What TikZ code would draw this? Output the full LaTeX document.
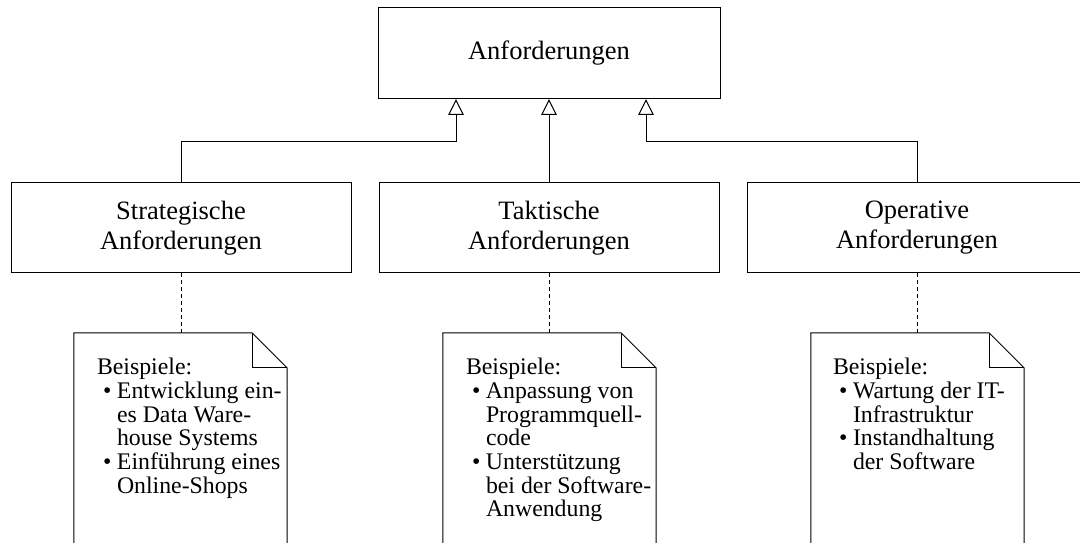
\documentclass[tikz,border=0pt]{standalone}
\usepackage{fontspec}
\setmainfont{Liberation Serif}
\usetikzlibrary{arrows.meta}

% bullet line and continuation line inside a note
\newcommand{\bitem}[1]{\makebox[20pt][l]{\hspace{6pt}\textbullet}#1}
\newcommand{\bcont}[1]{\makebox[20pt][l]{}#1}

\begin{document}
\begin{tikzpicture}[x=1pt,y=1pt,
  reqbox/.style={draw, line width=1pt, inner sep=0pt, minimum width=340pt,
    minimum height=90pt, align=center, font=\fontsize{26.5}{30}\selectfont},
  notearea/.style={inner sep=0pt, minimum width=213pt, minimum height=260pt, anchor=north},
  notetext/.style={inner sep=0pt, anchor=north west, align=left,
    font=\fontsize{23.8}{23.7}\selectfont},
  inherit/.style={line width=1pt, -{Triangle[open, length=16pt, width=15.5pt]}},
  trace/.style={line width=1pt, dash pattern=on 4pt off 3pt},
  noteline/.style={line width=1pt}
]
\useasboundingbox (0,0) rectangle (1080,543);
\clip (0,0) rectangle (1080,543);

% requirement boxes
\node[reqbox, minimum width=342pt, minimum height=91pt] (top) at (549,489.5) {Anforderungen};
\node[reqbox] (strat) at (181,315) {Strategische\\Anforderungen};
\node[reqbox] (takt)  at (549,315) {Taktische\\Anforderungen};
\node[reqbox] (oper)  at (917,315) {Operative\\Anforderungen};

% arrow heads end on the lower edge of the top box
\coordinate (tipS) at (456,444);
\coordinate (tipT) at (549,444);
\coordinate (tipO) at (646,444);
\coordinate (lvl) at (0,401.5);

\draw[inherit] (strat.north) |- (tipS |- lvl) -- (tipS);
\draw[inherit] (takt.north) -- (tipT);
\draw[inherit] (oper.north) |- (tipO |- lvl) -- (tipO);

% notes
\node[notearea] (nS) at (180.5,210) {};
\node[notearea] (nT) at (549.5,210) {};
\node[notearea] (nO) at (917.5,210) {};

\foreach \n in {nS,nT,nO}{
  \draw[noteline] (\n.south west) -- (\n.north west) -- ([xshift=-35pt]\n.north east)
    -- ([yshift=-35pt]\n.north east) -- (\n.south east);
  \draw[noteline] ([xshift=-35pt]\n.north east) |- ([yshift=-35pt]\n.north east);
}

\draw[trace] (strat.south) -- (strat.south |- nS.north);
\draw[trace] (takt.south) -- (takt.south |- nT.north);
\draw[trace] (oper.south) -- (oper.south |- nO.north);

\node[notetext] (tS) at ([xshift=23pt,yshift=-25pt]nS.north west)
  {Beispiele:\\
   \bitem{Entwicklung ein-}\\
   \bcont{es Data Ware-}\\
   \bcont{house Systems}\\
   \bitem{Einführung eines}\\
   \bcont{Online-Shops}};
\node[notetext] (tT) at ([xshift=23pt,yshift=-25pt]nT.north west)
  {Beispiele:\\
   \bitem{Anpassung von}\\
   \bcont{Programmquell-}\\
   \bcont{code}\\
   \bitem{Unterstützung}\\
   \bcont{bei der Software-}\\
   \bcont{Anwendung}};
\node[notetext] (tO) at ([xshift=22pt,yshift=-25pt]nO.north west)
  {Beispiele:\\
   \bitem{Wartung der IT-}\\
   \bcont{Infrastruktur}\\
   \bitem{Instandhaltung}\\
   \bcont{der Software}};
\end{tikzpicture}
\end{document}
